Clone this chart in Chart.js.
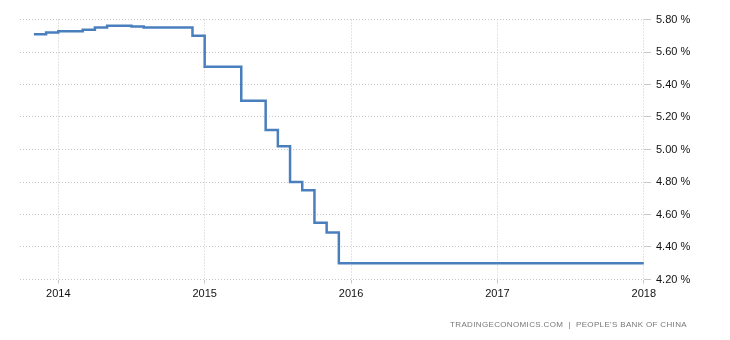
<!DOCTYPE html>
<html>
<head>
<meta charset="utf-8">
<script src="https://cdn.jsdelivr.net/npm/chart.js@4"></script>
<style>
  body { margin: 0; background: #fff; }
  #wrap { position: relative; width: 730px; height: 340px; }
  #source {
    position: absolute; right: 43px; top: 320px;
    font: 8px "Liberation Sans", Arial, sans-serif; color: #777;
    letter-spacing: 0.35px; white-space: pre;
  }
</style>
</head>
<body>
<div id="wrap">
  <canvas id="chart" width="730" height="340"></canvas>
  <div id="source">TRADINGECONOMICS.COM  |  PEOPLE'S BANK OF CHINA</div>
</div>
<script>
// meses desde nov 2013 hasta ene 2018
const meses = [
  '2013-11', '2013-12',
  '2014-01', '2014-02', '2014-03', '2014-04', '2014-05', '2014-06',
  '2014-07', '2014-08', '2014-09', '2014-10', '2014-11', '2014-12',
  '2015-01', '2015-02', '2015-03', '2015-04', '2015-05', '2015-06',
  '2015-07', '2015-08', '2015-09', '2015-10', '2015-11', '2015-12',
  '2016-01', '2016-02', '2016-03', '2016-04', '2016-05', '2016-06',
  '2016-07', '2016-08', '2016-09', '2016-10', '2016-11', '2016-12',
  '2017-01', '2017-02', '2017-03', '2017-04', '2017-05', '2017-06',
  '2017-07', '2017-08', '2017-09', '2017-10', '2017-11', '2017-12',
  '2018-01'
];
const tasas = [
  5.71, 5.72,
  5.727, 5.727, 5.737, 5.751, 5.761, 5.761,
  5.757, 5.751, 5.751, 5.751, 5.751, 5.70,
  5.51, 5.51, 5.51, 5.30, 5.30, 5.12,
  5.02, 4.80, 4.75, 4.55, 4.49, 4.30,
  4.30, 4.30, 4.30, 4.30, 4.30, 4.30,
  4.30, 4.30, 4.30, 4.30, 4.30, 4.30,
  4.30, 4.30, 4.30, 4.30, 4.30, 4.30,
  4.30, 4.30, 4.30, 4.30, 4.30, 4.30,
  4.30
];
const anios = ['2014', '2015', '2016', '2017', '2018'];
const yTicks = [4.2, 4.4, 4.6, 4.8, 5.0, 5.2, 5.4, 5.6, 5.8];

// indice de mes relativo a enero 2014
function mesIndex(m) {
  const [a, mm] = m.split('-').map(Number);
  return (a - 2014) * 12 + (mm - 1);
}

const puntos = meses.map((m, i) => ({ x: mesIndex(m), y: tasas[i] }));
const fuente = { family: '"Liberation Sans", Arial, sans-serif', size: 11 };

new Chart(document.getElementById('chart'), {
  type: 'line',
  data: {
    datasets: [{
      data: puntos,
      borderColor: '#4a7fbe',
      borderWidth: 2.5,
      pointRadius: 0,
      stepped: true,
      fill: false
    }]
  },
  options: {
    responsive: false,
    animation: false,
    layout: { padding: { left: 20, top: 19.5, right: 0, bottom: 35.5 } },
    plugins: { legend: { display: false }, tooltip: { enabled: false } },
    scales: {
      x: {
        type: 'linear',
        min: -3.14,
        max: 48.1,
        afterBuildTicks: s => { s.ticks = anios.map(a => ({ value: (Number(a) - 2014) * 12 })); },
        afterFit: s => { s.height = 25; },
        grid: { color: '#c8c8c8', tickLength: 4 },
        border: { display: false, dash: [1, 2] },
        ticks: {
          font: fuente, color: '#111', padding: 3.5, maxRotation: 0,
          callback: v => String(2014 + v / 12)
        }
      },
      y: {
        position: 'right',
        min: 4.2,
        max: 5.8,
        afterBuildTicks: s => { s.ticks = yTicks.map(v => ({ value: v })); },
        afterFit: s => { s.width = 85; },
        grid: { color: '#c8c8c8', tickLength: 6 },
        border: { display: false, dash: [1, 2] },
        ticks: {
          font: fuente, color: '#111', padding: 5,
          callback: v => v.toFixed(2) + ' %'
        }
      }
    }
  }
});
</script>
</body>
</html>
